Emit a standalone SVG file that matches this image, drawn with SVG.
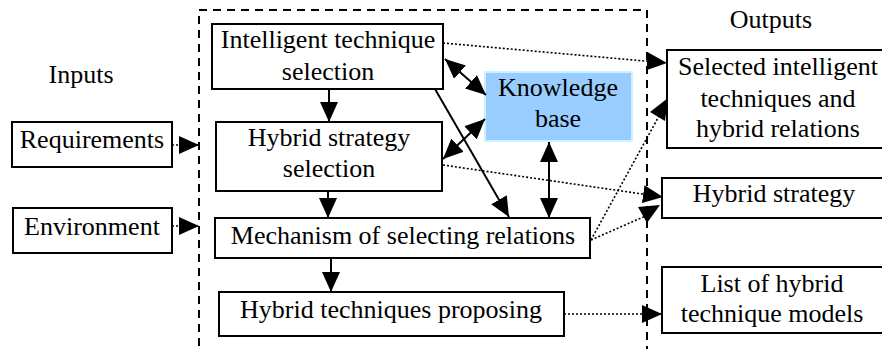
<svg xmlns="http://www.w3.org/2000/svg" width="882" height="349" viewBox="0 0 882 349">
  <style>
    .box { fill: #ffffff; stroke: #000000; stroke-width: 2; }
    .kb { fill: #99ccff; stroke: #ccf2ff; stroke-width: 2; }
    .frame { fill: none; stroke: #000000; stroke-width: 2; stroke-dasharray: 8 6; }
    .solid { fill: none; stroke: #000000; stroke-width: 2; }
    .dotted { fill: none; stroke: #000000; stroke-width: 1.6; stroke-dasharray: 2 2; }
    .head { fill: #000000; stroke: none; }
    .t { font-size: 26px; fill: #000000; text-anchor: middle; }
  </style>
  <defs>
    <marker id="arrow" viewBox="0 0 20 18" refX="20" refY="9" markerWidth="20" markerHeight="18" markerUnits="userSpaceOnUse" orient="auto">
      <path d="M0,0 L20,9 L0,18 Z" fill="#000000"/>
    </marker>
    <marker id="arrowStart" viewBox="0 0 20 18" refX="0" refY="9" markerWidth="20" markerHeight="18" markerUnits="userSpaceOnUse" orient="auto">
      <path d="M20,0 L0,9 L20,18 Z" fill="#000000"/>
    </marker>
  </defs>

  <rect width="882" height="349" fill="#ffffff"/>

  <!-- system boundary, open at the bottom -->
  <path class="frame" d="M199,360 L199,10 L647,10 L647,360"/>

  <g font-family="'Liberation Serif', 'DejaVu Serif', 'Times New Roman', serif">
  <g id="label-inputs"><text class="t" x="81" y="83">Inputs</text></g>
  <g id="label-outputs"><text class="t" x="771" y="28">Outputs</text></g>

  <g id="requirements">
    <rect class="box" x="12" y="122" width="160" height="45"/>
    <text class="t" x="92" y="148">Requirements</text>
  </g>
  <g id="environment">
    <rect class="box" x="13" y="208" width="159" height="45"/>
    <text class="t" x="92" y="235">Environment</text>
  </g>

  <g id="intelligent-technique-selection">
    <rect class="box" x="212" y="24" width="231" height="65"/>
    <text class="t" x="328" y="48">Intelligent technique</text>
    <text class="t" x="328" y="80">selection</text>
  </g>
  <g id="hybrid-strategy-selection">
    <rect class="box" x="216" y="122" width="226" height="69"/>
    <text class="t" x="329" y="146">Hybrid strategy</text>
    <text class="t" x="329" y="177">selection</text>
  </g>
  <g id="knowledge-base">
    <rect class="kb" x="485" y="72" width="147" height="69"/>
    <text class="t" x="558" y="96">Knowledge</text>
    <text class="t" x="558" y="127">base</text>
  </g>
  <g id="mechanism">
    <rect class="box" x="215" y="218" width="375" height="40"/>
    <text class="t" x="403" y="244">Mechanism of selecting relations</text>
  </g>
  <g id="hybrid-techniques-proposing">
    <rect class="box" x="219" y="292" width="345" height="44"/>
    <text class="t" x="391" y="318">Hybrid techniques proposing</text>
  </g>

  <g id="selected-techniques">
    <rect class="box" x="667" y="50" width="220" height="98"/>
    <text class="t" x="778" y="75">Selected intelligent</text>
    <text class="t" x="778" y="107">techniques and</text>
    <text class="t" x="778" y="137">hybrid relations</text>
  </g>
  <g id="hybrid-strategy">
    <rect class="box" x="662" y="178" width="225" height="40"/>
    <text class="t" x="774" y="202">Hybrid strategy</text>
  </g>
  <g id="technique-models">
    <rect class="box" x="662" y="267" width="225" height="66"/>
    <text class="t" x="772" y="292">List of hybrid</text>
    <text class="t" x="772" y="322">technique models</text>
  </g>
  </g>

  <g id="connectors">
    <!-- inputs into the system -->
    <line class="dotted" x1="172" y1="145" x2="199" y2="145" marker-end="url(#arrow)"/>
    <line class="dotted" x1="172" y1="226" x2="199" y2="226" marker-end="url(#arrow)"/>

    <!-- main flow -->
    <line class="solid" x1="329" y1="89" x2="329" y2="122" marker-end="url(#arrow)"/>
    <line class="solid" x1="328" y1="191" x2="328" y2="218" marker-end="url(#arrow)"/>
    <line class="solid" x1="331" y1="258" x2="331" y2="292" marker-end="url(#arrow)"/>
    <line class="solid" x1="435" y1="89" x2="509" y2="217" marker-end="url(#arrow)"/>

    <!-- knowledge base exchanges -->
    <line class="solid" x1="445" y1="59" x2="486" y2="95" marker-start="url(#arrowStart)" marker-end="url(#arrow)"/>
    <line class="solid" x1="443" y1="159" x2="485" y2="119" marker-start="url(#arrowStart)" marker-end="url(#arrow)"/>
    <line class="solid" x1="549" y1="142" x2="549" y2="218" marker-start="url(#arrowStart)" marker-end="url(#arrow)"/>

    <!-- outputs -->
    <line class="dotted" x1="443" y1="43" x2="667" y2="63" marker-end="url(#arrow)"/>
    <line class="dotted" x1="443" y1="165" x2="663" y2="197" marker-end="url(#arrow)"/>
    <line class="dotted" x1="591" y1="240" x2="659" y2="116"/>
    <polygon class="head" points="650,112 668,98 665,121"/>
    <line class="dotted" x1="591" y1="240" x2="650" y2="214"/>
    <polygon class="head" points="638,207 660,205 647,223"/>
    <line class="dotted" x1="564" y1="314" x2="662" y2="314" marker-end="url(#arrow)"/>
  </g>
</svg>
